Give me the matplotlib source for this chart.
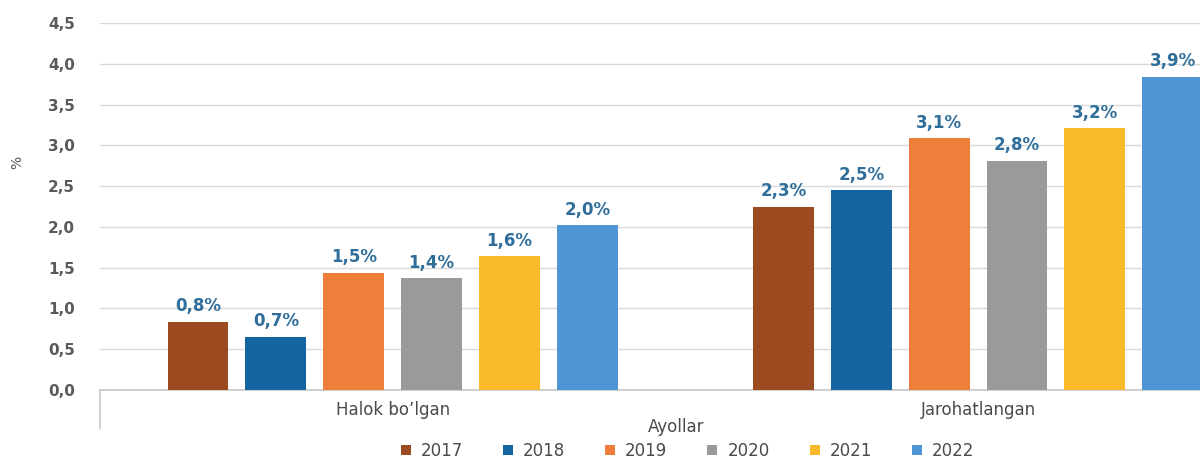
import matplotlib
matplotlib.use("Agg")
import matplotlib.pyplot as plt
import matplotlib.transforms as mtransforms
import numpy as np

# Données
years = ["2017", "2018", "2019", "2020", "2021", "2022"]
categories = ["Halok bo\u2019lgan", "Jarohatlangan"]
halok = [0.84, 0.65, 1.44, 1.37, 1.64, 2.02]
jarohat = [2.25, 2.45, 3.09, 2.81, 3.21, 3.84]
labels_halok = ["0,8%", "0,7%", "1,5%", "1,4%", "1,6%", "2,0%"]
labels_jarohat = ["2,3%", "2,5%", "3,1%", "2,8%", "3,2%", "3,9%"]
colors = ["#9c4a1f", "#14659f", "#ee7f3b", "#999a9c", "#f8b92b", "#5095d3"]

plt.rcParams['font.family'] = ['DejaVu Sans']

fig = plt.figure(figsize=(12, 4.61), dpi=100)
ax = fig.add_axes([0.0833, 0.154, 0.9167, 0.796])

x = np.arange(len(categories))
pitch = 0.133
width = 0.104
txt_col = "#2f6e9a"

for i, yr in enumerate(years):
    vals = [halok[i], jarohat[i]]
    labs = [labels_halok[i], labels_jarohat[i]]
    pos = x + (i - 2.5) * pitch
    ax.bar(pos, vals, width, color=colors[i], label=yr, zorder=3)
    for px, v, lab in zip(pos, vals, labs):
        ax.text(px, v + 0.08, lab, ha='center', va='bottom', fontsize=12,
                fontweight='bold', color=txt_col)

ax.set_xlim(-0.5, 1.379)
ax.set_ylim(0, 4.5)
ax.set_yticks(np.arange(0, 4.51, 0.5))
ax.set_yticklabels([f"{v:.1f}".replace(".", ",") for v in np.arange(0, 4.51, 0.5)],
                   fontsize=11, fontweight='bold', color="#5a5a5a")
ax.set_xticks(x)
ax.set_xticklabels(categories, fontsize=12, color="#4a4a4a")
ax.tick_params(axis='x', length=0, pad=8)
ax.tick_params(axis='y', length=0, pad=18)

ax.grid(axis='y', color="#d9d9d9", linewidth=1, zorder=0)
for s in ['top', 'right', 'left']:
    ax.spines[s].set_visible(False)
ax.spines['bottom'].set_color("#c8c8c8")
ax.spines['bottom'].set_linewidth(1.2)

# trait vertical sous l'axe (axe multi-niveaux)
ax.plot([0, 0], [0, -0.104], transform=ax.transAxes, color="#c8c8c8",
        linewidth=1.2, clip_on=False)

trans = mtransforms.blended_transform_factory(ax.transData, ax.transAxes)
ax.text(0.485, -0.075, "Ayollar", transform=trans, ha='center', va='top',
        fontsize=12, color="#4a4a4a")

ax.set_ylabel("%", fontsize=10, color="#555555")
ax.yaxis.set_label_coords(-0.069, 0.62)

fig.legend(loc='center', bbox_to_anchor=(0.573, 0.022), ncol=6, frameon=False,
           fontsize=12, handlelength=0.6, handleheight=0.6, columnspacing=2.4,
           handletextpad=0.6, labelcolor="#4a4a4a")

fig.savefig("out.png", dpi=100)
